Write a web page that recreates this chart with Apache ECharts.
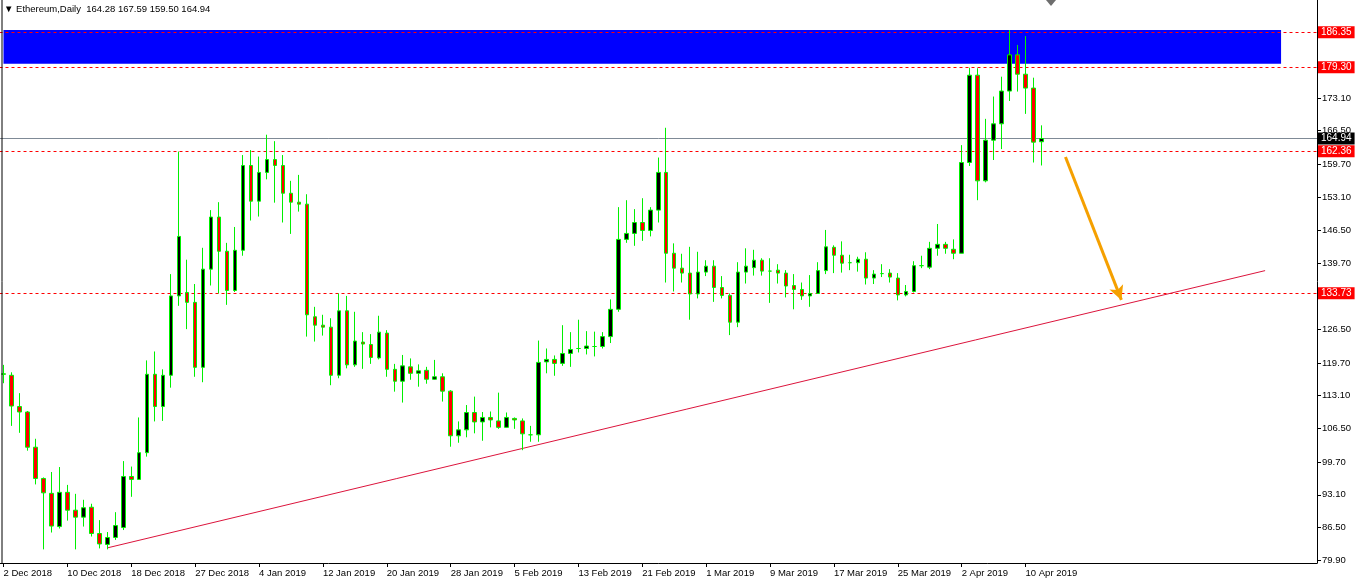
<!DOCTYPE html>
<html><head><meta charset="utf-8">
<script src="https://cdn.jsdelivr.net/npm/echarts@6/dist/echarts.min.js"></script>
<style>html,body{margin:0;padding:0;background:#fff}#c{width:1356px;height:584px}</style>
</head><body><div id="c"></div>
<script>
// ---- categories (daily bars, 25 Dec missing in feed) ----
const dates = [
'2 Dec 2018','3 Dec 2018','4 Dec 2018','5 Dec 2018','6 Dec 2018','7 Dec 2018','8 Dec 2018','9 Dec 2018','10 Dec 2018','11 Dec 2018',
'12 Dec 2018','13 Dec 2018','14 Dec 2018','15 Dec 2018','16 Dec 2018','17 Dec 2018','18 Dec 2018','19 Dec 2018','20 Dec 2018','21 Dec 2018',
'22 Dec 2018','23 Dec 2018','24 Dec 2018','26 Dec 2018','27 Dec 2018','28 Dec 2018','29 Dec 2018','30 Dec 2018','31 Dec 2018','1 Jan 2019',
'2 Jan 2019','3 Jan 2019','4 Jan 2019','5 Jan 2019','6 Jan 2019','7 Jan 2019','8 Jan 2019','9 Jan 2019','10 Jan 2019','11 Jan 2019',
'12 Jan 2019','13 Jan 2019','14 Jan 2019','15 Jan 2019','16 Jan 2019','17 Jan 2019','18 Jan 2019','19 Jan 2019','20 Jan 2019','21 Jan 2019',
'22 Jan 2019','23 Jan 2019','24 Jan 2019','25 Jan 2019','26 Jan 2019','27 Jan 2019','28 Jan 2019','29 Jan 2019','30 Jan 2019','31 Jan 2019',
'1 Feb 2019','2 Feb 2019','3 Feb 2019','4 Feb 2019','5 Feb 2019','6 Feb 2019','7 Feb 2019','8 Feb 2019','9 Feb 2019','10 Feb 2019',
'11 Feb 2019','12 Feb 2019','13 Feb 2019','14 Feb 2019','15 Feb 2019','16 Feb 2019','17 Feb 2019','18 Feb 2019','19 Feb 2019','20 Feb 2019',
'21 Feb 2019','22 Feb 2019','23 Feb 2019','24 Feb 2019','25 Feb 2019','26 Feb 2019','27 Feb 2019','28 Feb 2019','1 Mar 2019','2 Mar 2019',
'3 Mar 2019','4 Mar 2019','5 Mar 2019','6 Mar 2019','7 Mar 2019','8 Mar 2019','9 Mar 2019','10 Mar 2019','11 Mar 2019','12 Mar 2019',
'13 Mar 2019','14 Mar 2019','15 Mar 2019','16 Mar 2019','17 Mar 2019','18 Mar 2019','19 Mar 2019','20 Mar 2019','21 Mar 2019','22 Mar 2019',
'23 Mar 2019','24 Mar 2019','25 Mar 2019','26 Mar 2019','27 Mar 2019','28 Mar 2019','29 Mar 2019','30 Mar 2019','31 Mar 2019','1 Apr 2019',
'2 Apr 2019','3 Apr 2019','4 Apr 2019','5 Apr 2019','6 Apr 2019','7 Apr 2019','8 Apr 2019','9 Apr 2019','10 Apr 2019','11 Apr 2019',
'12 Apr 2019'
];
// ---- OHLC values ----
const open = [
117.5,117.2,110.9,109.8,102.7,96.4,93.4,86.7,93.6,90.0,
88.6,90.6,85.3,83.1,84.5,86.5,96.8,96.2,101.6,117.4,
110.9,117.2,133.2,133.9,131.9,118.8,138.6,149.1,142.2,134.3,
142.4,159.5,152.3,158.1,160.7,159.5,153.9,152.1,151.7,129.0,
127.3,126.9,117.2,130.2,119.3,123.9,123.4,120.7,125.7,118.4,
116.0,118.9,117.6,118.2,116.4,116.9,114.0,105.0,106.2,109.7,
107.8,108.7,108.0,106.7,108.5,108.0,105.2,105.2,119.9,120.4,
119.6,121.6,122.6,122.6,123.0,123.0,125.0,130.5,144.6,145.8,
148.0,146.4,150.5,158.1,141.8,138.8,137.8,133.6,138.0,139.2,
134.9,133.3,127.9,138.0,138.9,140.4,138.2,138.4,137.8,135.3,
134.5,133.2,133.7,138.3,143.0,141.4,139.9,139.9,140.6,136.8,
137.7,137.8,136.8,133.4,134.1,139.3,139.0,142.8,143.6,142.6,
141.8,160.1,177.7,156.4,164.6,167.9,174.5,181.8,177.9,175.1,164.28
];
const high = [
119.3,117.8,113.6,110.0,104.4,96.6,97.7,98.7,95.1,93.3,
92.1,91.3,88.0,85.6,89.6,99.9,98.8,108.7,120.2,122.0,
118.4,137.6,162.3,140.5,135.6,142.9,150.5,152.1,143.9,147.1,
161.6,162.6,161.3,165.7,164.4,161.6,156.4,157.6,153.7,131.0,
129.4,128.7,133.7,133.2,130.0,125.9,125.5,129.2,126.3,119.5,
121.3,120.6,119.4,118.9,120.3,117.6,114.2,107.9,111.2,112.9,
109.8,109.9,113.7,109.7,108.7,108.5,107.0,124.2,122.6,121.2,
127.3,125.9,128.4,126.1,126.0,125.9,132.5,151.1,152.5,150.7,
152.9,151.1,161.1,167.1,143.8,141.7,143.1,142.1,140.4,140.4,
137.2,133.7,140.0,142.8,142.5,140.8,140.8,139.6,138.4,137.6,
135.9,137.4,140.0,146.5,143.4,144.2,141.5,141.1,142.0,138.4,
139.6,138.6,137.8,135.4,140.2,141.3,144.1,147.7,144.1,144.6,
163.6,179.2,179.1,168.9,173.4,177.4,186.8,183.8,185.6,177.2,167.59
];
const low = [
115.6,107.0,105.6,102.0,95.2,82.1,85.5,86.3,87.9,82.1,
86.7,84.7,82.3,82.1,84.0,86.0,92.7,96.2,100.8,107.9,
108.0,114.7,131.2,126.5,116.9,115.8,135.3,133.7,131.4,134.0,
141.3,148.4,149.2,156.7,152.0,148.0,145.7,150.2,125.0,124.0,
125.2,115.2,116.6,118.6,118.9,118.5,119.5,120.4,116.9,113.9,
111.7,116.3,114.9,115.5,116.3,111.9,102.8,103.6,104.7,105.5,
104.0,106.7,106.4,106.6,106.4,102.1,103.8,103.8,117.6,117.1,
119.1,118.9,121.8,121.4,121.0,122.6,123.7,130.0,143.9,143.3,
144.3,145.2,148.0,135.9,134.1,135.9,128.4,132.7,137.2,132.0,
132.7,125.3,126.9,135.7,137.3,137.3,131.8,135.7,132.9,130.5,
132.4,131.0,133.6,137.6,137.8,137.9,138.4,138.1,135.5,135.6,
137.0,135.9,132.3,133.1,133.9,138.8,138.6,141.3,141.7,140.6,
141.8,159.4,152.5,156.1,160.6,162.8,172.5,174.4,169.9,160.1,159.50
];
const close = [
117.4,111.0,109.8,102.7,96.4,93.5,86.8,93.6,90.0,88.6,
90.5,85.3,83.2,84.5,86.9,96.8,96.2,101.6,117.4,110.9,
117.2,133.2,145.2,131.9,118.8,138.6,149.1,142.2,134.3,142.4,
159.5,152.3,158.1,160.7,159.5,153.9,152.1,151.7,129.4,127.3,
126.9,117.2,130.2,119.3,124.1,123.5,120.8,125.9,118.4,116.0,
119.1,117.6,118.1,116.4,116.9,114.0,105.0,106.2,109.7,107.8,
108.7,108.2,106.7,108.7,108.2,105.4,105.2,119.8,120.4,119.6,
121.6,122.4,122.6,123.1,123.0,125.0,130.5,144.6,145.8,148.0,
146.4,150.5,158.1,141.8,138.8,137.8,133.6,138.0,139.2,134.9,
133.3,127.9,138.0,139.2,140.4,138.2,138.2,137.8,135.2,134.5,
133.2,133.7,138.3,143.1,141.4,139.8,139.9,140.6,136.8,137.6,
137.7,137.0,133.4,134.1,139.3,139.3,142.8,143.6,142.8,141.8,
160.1,177.7,156.4,164.6,167.9,174.5,181.8,177.9,175.1,164.2,164.94
];
// ---- axis tick labels ----
const yTicks = [79.90,86.50,93.10,99.70,106.50,113.10,119.70,126.50,133.30,139.70,146.50,153.10,159.70,166.50,173.10];
// ---- drawn levels / objects (price & bar-index coordinates) ----
const levelPrices = [186.35, 179.30, 162.36, 133.73];
const zonePrices = [180.0, 186.8];
const zoneBars = [0, 160];
const trendBars = [13, 158];
const trendPrices = [82.4, 138.3];
const arrowBars = [132.5, 139.5];
const arrowPrices = [161.2, 132.4];

const FONT = "'Liberation Sans', 'DejaVu Sans', sans-serif";
const FS = 9.5;
const n = dates.length;
const cats = dates.slice();
for (let i = 0; i < 34; i++) cats.push('');
const ohlc = dates.map((d, i) => [open[i], close[i], low[i], high[i]]);
const last = n - 1;
const showIdx = (i) => i % 8 === 0 && i < n;

const tag = (bg) => ({
  show: true, position: 'end', distance: 1, color: '#fff', backgroundColor: bg,
  fontFamily: FONT, fontSize: 10, padding: [1, 3, 0, 3], lineHeight: 11
});
const levelLines = levelPrices.map(p => ({
  yAxis: p,
  lineStyle: { color: '#ff0000', type: [3, 3], width: 1 },
  label: Object.assign(tag('#ff0000'), { formatter: p.toFixed(2) })
}));
levelLines.push({
  yAxis: close[last],
  lineStyle: { color: '#7f8a96', type: 'solid', width: 1 },
  label: Object.assign(tag('#000000'), { formatter: close[last].toFixed(2) })
});

const chart = echarts.init(document.getElementById('c'), null, { renderer: 'canvas' });
chart.setOption({
  animation: false,
  backgroundColor: '#ffffff',
  title: {
    text: '\u25BC Ethereum,Daily  ' + [open[last], high[last], low[last], close[last]].map(v => v.toFixed(2)).join(' '),
    left: 4, top: 4, padding: 0,
    textStyle: { fontFamily: FONT, fontSize: FS, fontWeight: 'normal', color: '#000' }
  },
  grid: { left: -0.5, right: 39, top: 0, bottom: 21, containLabel: false, outerBoundsMode: 'none' },
  xAxis: {
    type: 'category', data: cats, boundaryGap: true,
    axisLine: { show: true, lineStyle: { color: '#000', width: 1 } },
    axisTick: { show: true, alignWithLabel: true, interval: showIdx, length: 4, lineStyle: { color: '#000' } },
    axisLabel: {
      show: true, interval: showIdx, align: 'left', margin: 5,
      color: '#000', fontFamily: FONT, fontSize: FS
    },
    splitLine: { show: false }
  },
  yAxis: {
    type: 'value', position: 'right', min: 79.355, max: 192.86, scale: true,
    axisLine: { show: true, lineStyle: { color: '#000', width: 1 } },
    axisTick: { show: true, length: 4, customValues: yTicks, lineStyle: { color: '#000' } },
    axisLabel: {
      show: true, customValues: yTicks, margin: 5, color: '#000',
      fontFamily: FONT, fontSize: FS, formatter: v => Number(v).toFixed(2)
    },
    splitLine: { show: false }
  },
  series: [{
    type: 'candlestick',
    data: ohlc,
    barWidth: 4,
    z: 2,
    itemStyle: {
      color: '#000000', color0: '#ff0000',
      borderColor: '#00f000', borderColor0: '#00f000', borderColorDoji: '#00f000',
      borderWidth: 1
    },
    markArea: {
      silent: true, z: 0,
      itemStyle: { color: '#0000ff', opacity: 1 },
      data: [[{ coord: [zoneBars[0], zonePrices[1]] }, { coord: [zoneBars[1], zonePrices[0]] }]]
    },
    markLine: {
      silent: true, z: 1, symbol: 'none', precision: 2,
      data: levelLines.concat([
        [
          { coord: [trendBars[0], trendPrices[0]], symbol: 'none' },
          { coord: [trendBars[1], trendPrices[1]], symbol: 'none',
            lineStyle: { color: '#dc143c', width: 1, type: 'solid' }, label: { show: false } }
        ],
        [
          { coord: [arrowBars[0], arrowPrices[0]], symbol: 'none' },
          { coord: [arrowBars[1], arrowPrices[1]], symbol: 'arrow', symbolSize: [11, 14],
            lineStyle: { color: '#f5a000', width: 3, type: 'solid' }, label: { show: false } }
        ]
      ])
    }
  }],
  graphic: [
    { type: 'line', shape: { x1: 2, y1: 0, x2: 2, y2: 563 }, style: { stroke: '#000', lineWidth: 1 }, z: 10 },
    { type: 'polygon', shape: { points: [[1046, 0], [1056, 0], [1051, 6]] }, style: { fill: '#6e6e6e' }, z: 10 }
  ]
});
</script>
</body></html>
